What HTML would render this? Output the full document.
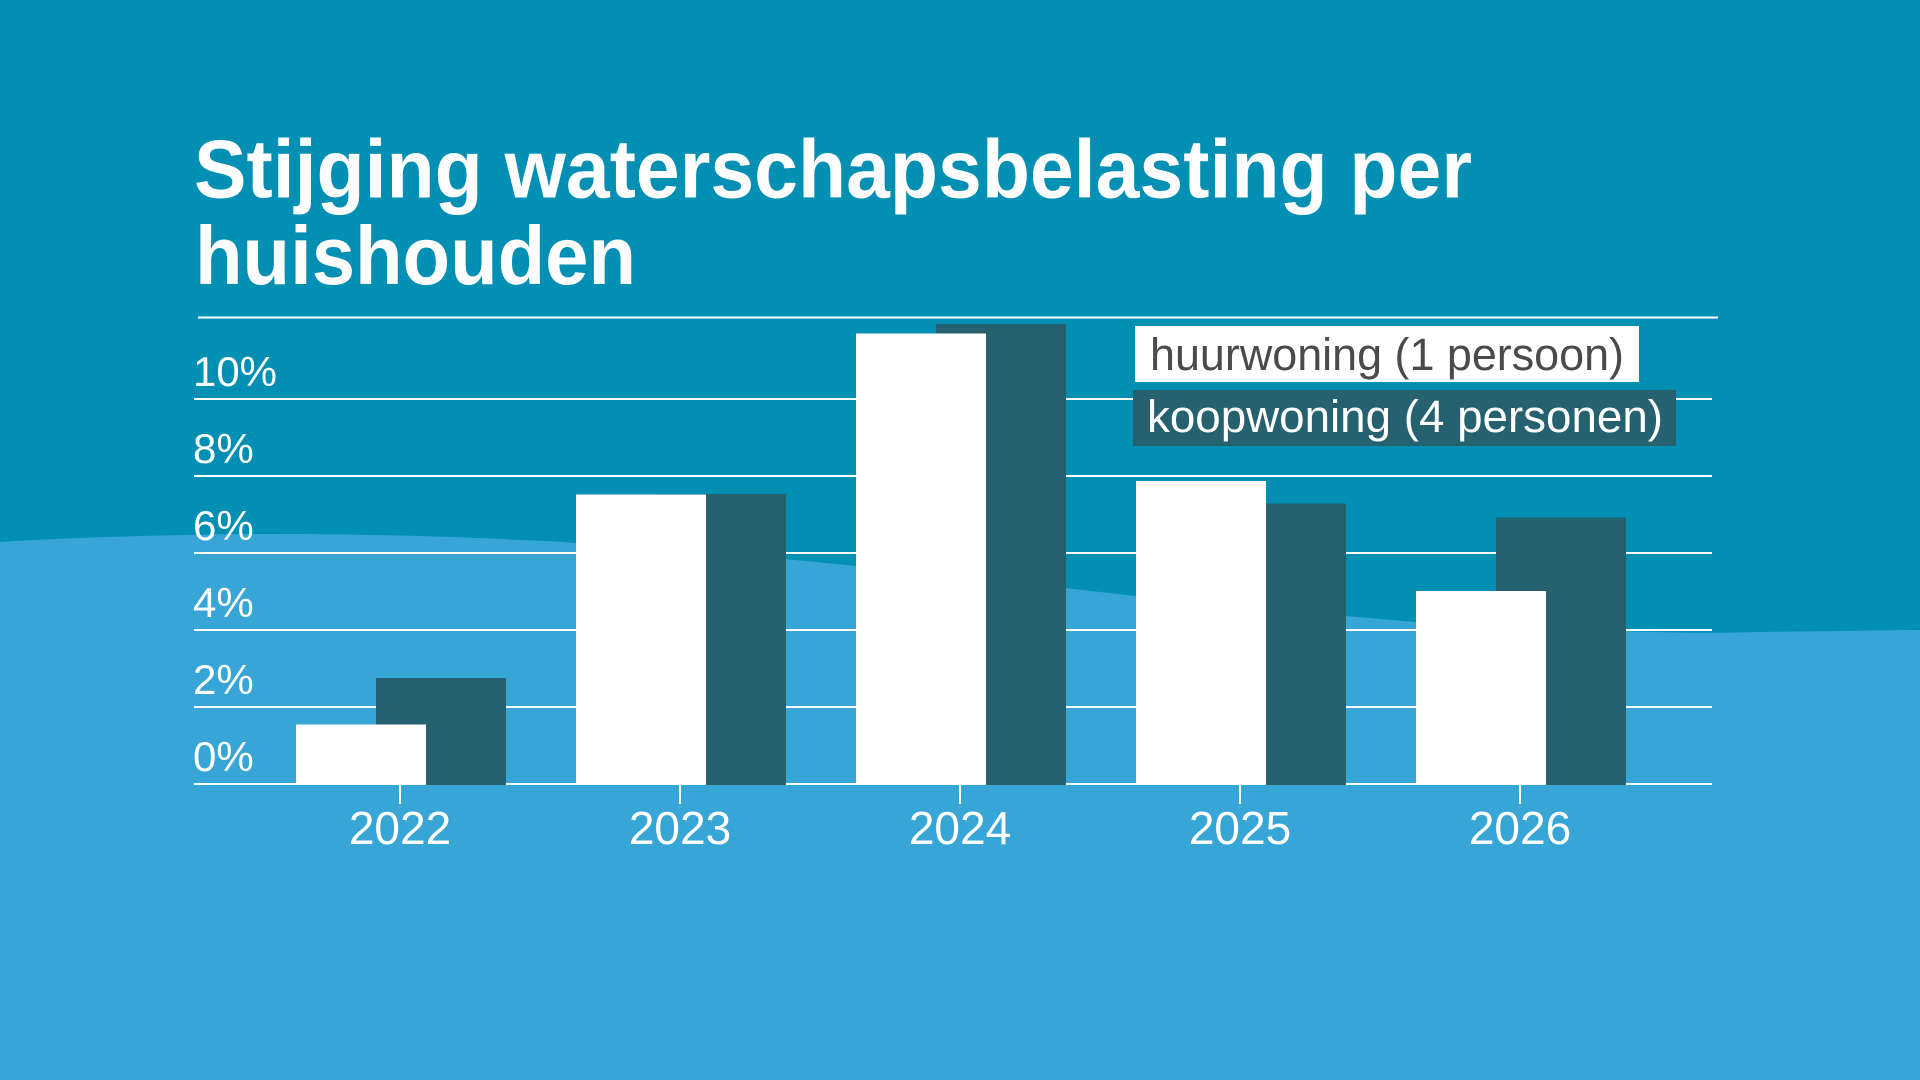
<!DOCTYPE html>
<html>
<head>
<meta charset="utf-8">
<style>
html,body{margin:0;padding:0;background:#0190b3;}
svg{display:block;}
text{font-family:"Liberation Sans",sans-serif;}
</style>
</head>
<body>
<svg width="1920" height="1080" viewBox="0 0 1920 1080" xmlns="http://www.w3.org/2000/svg">
  <rect x="0" y="0" width="1920" height="1080" fill="#0190b3"/>
  <path d="M0,542 C60,538 150,535 260,534 C360,534 450,536 520,540 C560,541 580,544 620,546 L785,559 L855,566 L1065,588 L1135,596 L1345,616 L1415,622 L1625,631 C1680,633 1720,633 1760,632 C1840,631 1900,630 1920,630 L1920,1080 L0,1080 Z" fill="#37a6d7"/>

  <!-- Title -->
  <text x="194" y="197.5" font-size="83" font-weight="bold" fill="#ffffff" textLength="1278" lengthAdjust="spacingAndGlyphs">Stijging waterschapsbelasting per</text>
  <text x="195" y="284" font-size="83" font-weight="bold" fill="#ffffff" textLength="441" lengthAdjust="spacingAndGlyphs">huishouden</text>

  <!-- Separator line -->
  <rect x="198" y="316.5" width="1520" height="2" fill="#ffffff"/>

  <!-- Gridlines -->
  <g fill="#ffffff">
    <rect x="194" y="398" width="1518" height="2"/>
    <rect x="194" y="475" width="1518" height="2"/>
    <rect x="194" y="552" width="1518" height="2"/>
    <rect x="194" y="629" width="1518" height="2"/>
    <rect x="194" y="706" width="1518" height="2"/>
    <rect x="194" y="783" width="1518" height="2"/>
  </g>

  <!-- Ticks -->
  <g fill="#ffffff">
    <rect x="399" y="784" width="2" height="20"/>
    <rect x="679" y="784" width="2" height="20"/>
    <rect x="959" y="784" width="2" height="20"/>
    <rect x="1239" y="784" width="2" height="20"/>
    <rect x="1519" y="784" width="2" height="20"/>
  </g>

  <!-- Y labels -->
  <g font-size="42" fill="#ffffff">
    <text x="193" y="386" textLength="84" lengthAdjust="spacingAndGlyphs">10%</text>
    <text x="193" y="463">8%</text>
    <text x="193" y="540">6%</text>
    <text x="193" y="617">4%</text>
    <text x="193" y="694">2%</text>
    <text x="193" y="771">0%</text>
  </g>

  <!-- Bars: dark behind white -->
  <g fill="#25616f">
    <rect x="376" y="678" width="130" height="107"/>
    <rect x="656" y="494" width="130" height="291"/>
    <rect x="936" y="324" width="130" height="461"/>
    <rect x="1216" y="503.5" width="130" height="281.5"/>
    <rect x="1496" y="517.5" width="130" height="267.5"/>
  </g>
  <g fill="#ffffff">
    <rect x="296" y="724.5" width="130" height="60.5"/>
    <rect x="576" y="494.5" width="130" height="290.5"/>
    <rect x="856" y="333.5" width="130" height="451.5"/>
    <rect x="1136" y="481" width="130" height="304"/>
    <rect x="1416" y="591" width="130" height="194"/>
  </g>

  <!-- X labels -->
  <g font-size="46" fill="#ffffff" text-anchor="middle">
    <text x="400" y="844">2022</text>
    <text x="680" y="844">2023</text>
    <text x="960" y="844">2024</text>
    <text x="1240" y="844">2025</text>
    <text x="1520" y="844">2026</text>
  </g>

  <!-- Legend -->
  <rect x="1135" y="326" width="504" height="56" fill="#ffffff"/>
  <text x="1150" y="370" font-size="45" fill="#4a4a4a" textLength="474" lengthAdjust="spacingAndGlyphs">huurwoning (1 persoon)</text>
  <rect x="1133" y="390" width="543" height="56" fill="#25616f"/>
  <text x="1147" y="432" font-size="45" fill="#ffffff" textLength="516" lengthAdjust="spacingAndGlyphs">koopwoning (4 personen)</text>
</svg>
</body>
</html>
